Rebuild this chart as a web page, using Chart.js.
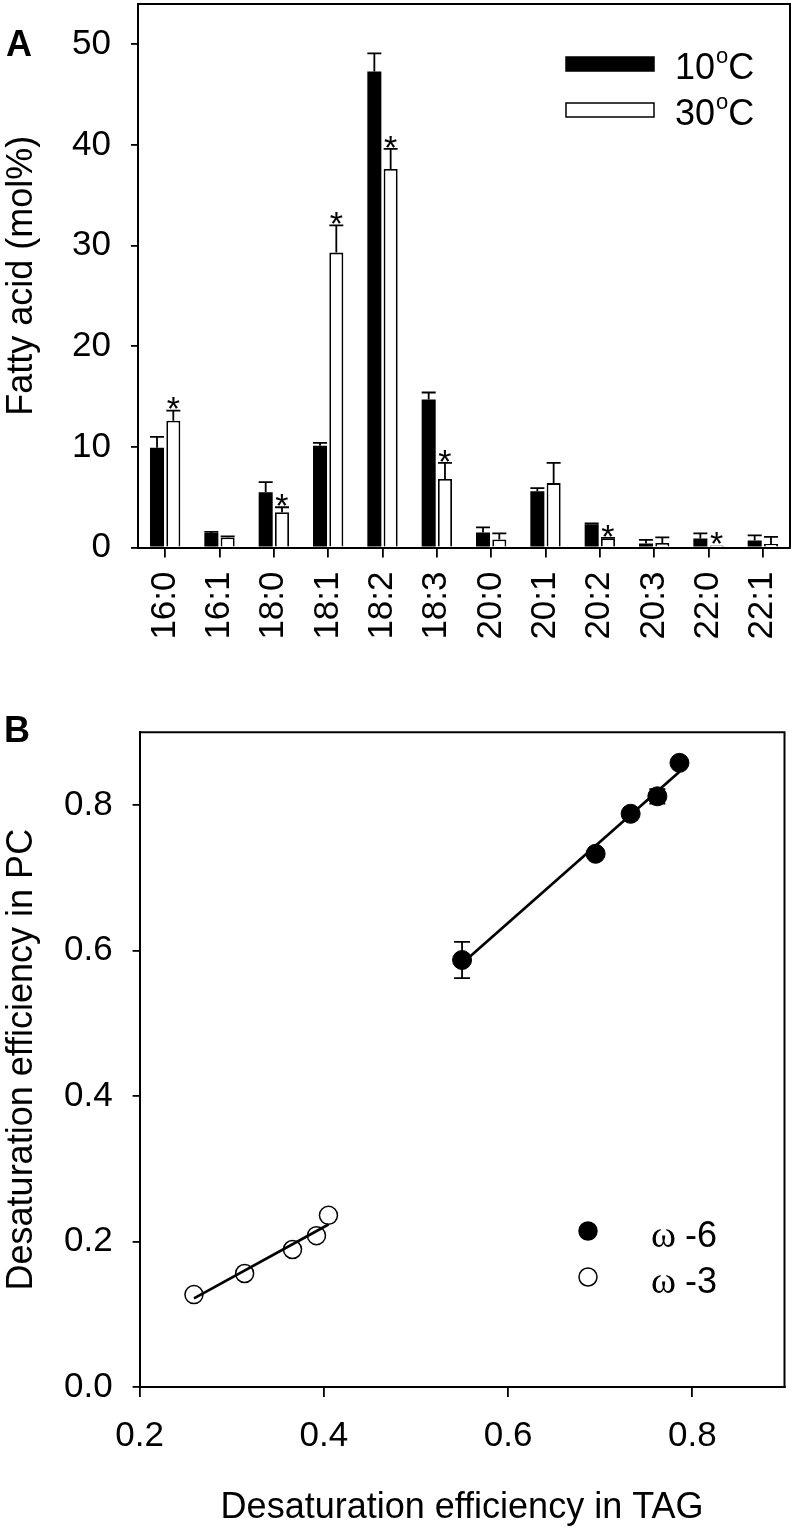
<!DOCTYPE html>
<html>
<head>
<meta charset="utf-8">
<script src="https://cdn.jsdelivr.net/npm/chart.js@4.4.1/dist/chart.umd.min.js"></script>
<style>
  html, body { margin: 0; padding: 0; background: #fff; }
  #wrap { position: relative; width: 795px; height: 1535px; }
  canvas { position: absolute; left: 0; }
  #chartA { top: 0; width: 795px; height: 650px; }
  #chartB { top: 650px; width: 795px; height: 885px; }
</style>
</head>
<body>
<div id="wrap">
  <canvas id="chartA" width="795" height="650"></canvas>
  <canvas id="chartB" width="795" height="885"></canvas>
</div>
<script>
// ---- Panel A data: fatty acid composition (mol%) ----
const fattyAcids = ['16:0', '16:1', '18:0', '18:1', '18:2', '18:3', '20:0', '20:1', '20:2', '20:3', '22:0', '22:1'];
const cold10 = [9.9, 1.45, 5.5, 10.1, 47.3, 14.7, 1.5, 5.6, 2.3, 0.4, 0.9, 0.7];
const cold10Err = [1.1, 0.1, 1.0, 0.3, 1.8, 0.7, 0.5, 0.3, 0.1, 0.35, 0.5, 0.5];
const warm30 = [12.6, 1.0, 3.5, 29.3, 37.6, 6.8, 0.8, 6.4, 0.9, 0.45, 0.2, 0.35];
const warm30Err = [1.0, 0.1, 0.5, 2.7, 2.0, 1.6, 0.6, 2.0, 0.05, 0.55, 0, 0.7];
const stars30 = [true, false, true, true, true, true, false, false, true, false, true, false];
const yTicksA = [0, 10, 20, 30, 40, 50];

// ---- Panel B data: desaturation efficiency, TAG vs PC ----
const omega6X = [0.550, 0.695, 0.733, 0.762, 0.786];
const omega6Y = [0.587, 0.733, 0.788, 0.812, 0.858];
const omega6ErrX = [0.004, 0, 0, 0.005, 0];
const omega6ErrY = [0.025, 0, 0, 0.010, 0];
const omega3X = [0.259, 0.314, 0.366, 0.392, 0.405];
const omega3Y = [0.127, 0.156, 0.189, 0.208, 0.236];
const xTicksB = [0.2, 0.4, 0.6, 0.8];
const yTicksB = [0.0, 0.2, 0.4, 0.6, 0.8];

const FONT = "'Liberation Sans', Arial, sans-serif";
const SERIF = "'Liberation Serif', 'Times New Roman', serif";
Chart.defaults.font.family = FONT;
Chart.defaults.color = '#000';
Chart.defaults.animation = false;

// least squares line across the x range of the points
function fitLine(xs, ys) {
  const n = xs.length;
  const mx = xs.reduce((a, b) => a + b, 0) / n;
  const my = ys.reduce((a, b) => a + b, 0) / n;
  let sxy = 0, sxx = 0;
  xs.forEach((x, i) => { sxy += (x - mx) * (ys[i] - my); sxx += (x - mx) * (x - mx); });
  const slope = sxy / sxx, icpt = my - slope * mx;
  const x0 = Math.min(...xs), x1 = Math.max(...xs);
  return [{ x: x0, y: icpt + slope * x0 }, { x: x1, y: icpt + slope * x1 }];
}

// fixed scale sizes; drop the label overhang padding chart.js adds
function fixWidth(w) {
  return s => { s.width = w; s.paddingTop = 0; s.paddingBottom = 0; };
}
function fixHeight(h) {
  return s => { s.height = h; s.paddingLeft = 0; s.paddingRight = 0; };
}

// top + right frame lines
const boxPlugin = {
  id: 'box',
  afterDraw(chart) {
    const { ctx, chartArea: a } = chart;
    ctx.save();
    ctx.strokeStyle = '#000';
    ctx.lineWidth = 2;
    ctx.beginPath();
    ctx.moveTo(a.left, a.top);
    ctx.lineTo(a.right, a.top);
    ctx.lineTo(a.right, a.bottom);
    ctx.stroke();
    ctx.restore();
  }
};

function panelLetter(letter, x, y) {
  return {
    id: 'letter' + letter,
    afterDraw(chart) {
      const ctx = chart.ctx;
      ctx.save();
      ctx.fillStyle = '#000';
      ctx.font = `bold 36px ${FONT}`;
      ctx.textAlign = 'left';
      ctx.textBaseline = 'alphabetic';
      ctx.fillText(letter, x, y);
      ctx.restore();
    }
  };
}

// error bars (upward only) and significance stars for panel A
const errorBarsA = {
  id: 'errA',
  afterDatasetsDraw(chart) {
    const ctx = chart.ctx, y = chart.scales.y;
    const errs = [cold10Err, warm30Err];
    ctx.save();
    ctx.strokeStyle = '#000';
    ctx.lineWidth = 1.8;
    chart.data.datasets.forEach((ds, di) => {
      const meta = chart.getDatasetMeta(di);
      meta.data.forEach((bar, i) => {
        const e = errs[di][i];
        if (!e) return;
        const top = y.getPixelForValue(ds.data[i] + e);
        const half = bar.width / 2;
        ctx.beginPath();
        ctx.moveTo(bar.x, bar.y);
        ctx.lineTo(bar.x, top);
        ctx.moveTo(bar.x - half, top);
        ctx.lineTo(bar.x + half, top);
        ctx.stroke();
      });
    });
    const meta30 = chart.getDatasetMeta(1);
    ctx.fillStyle = '#000';
    ctx.font = `34px ${FONT}`;
    ctx.textAlign = 'center';
    ctx.textBaseline = 'alphabetic';
    stars30.forEach((s, i) => {
      if (!s) return;
      const bar = meta30.data[i];
      const top = y.getPixelForValue(warm30[i] + warm30Err[i]);
      ctx.fillText('*', bar.x, top - 5 + 0.43 * 34);
    });
    ctx.restore();
  }
};

// legend with superscript "o" for degrees
const legendA = {
  id: 'legendA',
  afterDraw(chart) {
    const ctx = chart.ctx;
    const rows = [{ ds: 0, txt: '10', rectY: 57, base: 79 }, { ds: 1, txt: '30', rectY: 103, base: 125 }];
    ctx.save();
    rows.forEach(r => {
      const ds = chart.data.datasets[r.ds];
      ctx.fillStyle = ds.backgroundColor;
      ctx.fillRect(566, r.rectY, 88, 14);
      ctx.strokeStyle = '#000';
      ctx.lineWidth = 1.5;
      ctx.strokeRect(566, r.rectY, 88, 14);
      ctx.fillStyle = '#000';
      ctx.textAlign = 'left';
      ctx.textBaseline = 'alphabetic';
      ctx.font = `36px ${FONT}`;
      let x = 675;
      ctx.fillText(r.txt, x, r.base);
      x += ctx.measureText(r.txt).width + 1;
      ctx.font = `22px ${FONT}`;
      ctx.fillText('o', x, r.base - 16);
      x += ctx.measureText('o').width;
      ctx.font = `36px ${FONT}`;
      ctx.fillText('C', x, r.base);
    });
    ctx.restore();
  }
};

new Chart(document.getElementById('chartA'), {
  type: 'bar',
  data: {
    labels: fattyAcids,
    datasets: [
      { label: '10oC', data: cold10, backgroundColor: '#000', borderColor: '#000', borderWidth: 0 },
      { label: '30oC', data: warm30, backgroundColor: '#fff', borderColor: '#000', borderWidth: 1.8 }
    ]
  },
  options: {
    responsive: false,
    categoryPercentage: 0.6,
    barPercentage: 0.86,
    layout: { padding: { top: 4, right: 5, left: 0, bottom: 0 } },
    plugins: { legend: { display: false }, tooltip: { enabled: false } },
    scales: {
      x: {
        offset: true,
        grid: { offset: false, drawOnChartArea: false, drawTicks: true, tickLength: 10, color: '#000', lineWidth: 1.8 },
        border: { display: true, color: '#000', width: 2 },
        ticks: { minRotation: 90, maxRotation: 90, padding: 14, font: { size: 35 }, color: '#000' },
        afterFit: fixHeight(102.5)
      },
      y: {
        min: 0,
        max: 54,
        afterBuildTicks: s => { s.ticks = yTicksA.map(v => ({ value: v })); },
        grid: { drawOnChartArea: false, drawTicks: true, tickLength: 7, color: '#000', lineWidth: 1.8 },
        border: { display: true, color: '#000', width: 2 },
        ticks: { padding: 20, font: { size: 35 }, color: '#000', callback: v => v },
        title: { display: true, text: 'Fatty acid (mol%)', font: { size: 36 }, color: '#000', padding: { top: 0, bottom: 0 } },
        afterFit: fixWidth(138)
      }
    }
  },
  plugins: [boxPlugin, errorBarsA, legendA, panelLetter('A', 6, 56)]
});

// error bars for panel B points
const errorBarsB = {
  id: 'errB',
  beforeDatasetsDraw(chart) {
    const ctx = chart.ctx, xs = chart.scales.x, ys = chart.scales.y;
    ctx.save();
    ctx.strokeStyle = '#000';
    ctx.lineWidth = 1.8;
    omega6X.forEach((xv, i) => {
      const px = xs.getPixelForValue(xv), py = ys.getPixelForValue(omega6Y[i]);
      const ey = omega6ErrY[i], ex = omega6ErrX[i];
      if (ey) {
        const t = ys.getPixelForValue(omega6Y[i] + ey), b = ys.getPixelForValue(omega6Y[i] - ey);
        ctx.beginPath();
        ctx.moveTo(px, t); ctx.lineTo(px, b);
        ctx.moveTo(px - 8, t); ctx.lineTo(px + 8, t);
        ctx.moveTo(px - 8, b); ctx.lineTo(px + 8, b);
        ctx.stroke();
      }
      if (ex) {
        const l = xs.getPixelForValue(xv - ex), r = xs.getPixelForValue(xv + ex);
        ctx.beginPath();
        ctx.moveTo(l, py); ctx.lineTo(r, py);
        ctx.moveTo(l, py - 8); ctx.lineTo(l, py + 8);
        ctx.moveTo(r, py - 8); ctx.lineTo(r, py + 8);
        ctx.stroke();
      }
    });
    ctx.restore();
  }
};

const legendB = {
  id: 'legendB',
  afterDraw(chart) {
    const ctx = chart.ctx;
    const rows = [{ ds: 0, txt: '-6', cy: 581, base: 597 }, { ds: 1, txt: '-3', cy: 627, base: 643 }];
    ctx.save();
    rows.forEach(r => {
      const ds = chart.data.datasets[r.ds];
      ctx.beginPath();
      ctx.arc(588, r.cy, 9, 0, Math.PI * 2);
      ctx.fillStyle = ds.backgroundColor;
      ctx.fill();
      ctx.strokeStyle = '#000';
      ctx.lineWidth = 1.5;
      ctx.stroke();
      ctx.fillStyle = '#000';
      ctx.textAlign = 'left';
      ctx.textBaseline = 'alphabetic';
      ctx.font = `38px ${SERIF}`;
      ctx.fillText('\u03c9', 651, r.base);
      ctx.font = `36px ${FONT}`;
      ctx.fillText(r.txt, 685, r.base);
    });
    ctx.restore();
  }
};

new Chart(document.getElementById('chartB'), {
  type: 'scatter',
  data: {
    datasets: [
      { label: '\u03c9 -6', data: omega6X.map((x, i) => ({ x, y: omega6Y[i] })), backgroundColor: '#000', borderColor: '#000', pointRadius: 9.5, borderWidth: 1, order: 2 },
      { label: '\u03c9 -3', data: omega3X.map((x, i) => ({ x, y: omega3Y[i] })), backgroundColor: '#fff', borderColor: '#000', pointRadius: 9, borderWidth: 1.5, order: 2 },
      { type: 'line', label: 'fit6', data: fitLine(omega6X, omega6Y), borderColor: '#000', borderWidth: 2.7, pointRadius: 0, fill: false, order: 1 },
      { type: 'line', label: 'fit3', data: fitLine(omega3X, omega3Y), borderColor: '#000', borderWidth: 2.7, pointRadius: 0, fill: false, order: 1 }
    ]
  },
  options: {
    responsive: false,
    layout: { padding: { top: 82.3, right: 4.3, left: 0, bottom: 0 } },
    plugins: { legend: { display: false }, tooltip: { enabled: false } },
    scales: {
      x: {
        type: 'linear',
        min: 0.2,
        max: 0.9,
        afterBuildTicks: s => { s.ticks = xTicksB.map(v => ({ value: v })); },
        grid: { drawOnChartArea: false, drawTicks: true, tickLength: 10, color: '#000', lineWidth: 1.8 },
        border: { display: true, color: '#000', width: 2 },
        ticks: { padding: 18, font: { size: 35 }, color: '#000', maxRotation: 0, callback: v => v.toFixed(1) },
        title: { display: true, text: 'Desaturation efficiency in TAG', font: { size: 36 }, color: '#000', padding: { top: 0, bottom: 5 } },
        afterFit: fixHeight(148)
      },
      y: {
        type: 'linear',
        min: 0,
        max: 0.9,
        afterBuildTicks: s => { s.ticks = yTicksB.map(v => ({ value: v })); },
        grid: { drawOnChartArea: false, drawTicks: true, tickLength: 7, color: '#000', lineWidth: 1.8 },
        border: { display: true, color: '#000', width: 2 },
        ticks: { padding: 20, font: { size: 35 }, color: '#000', callback: v => v.toFixed(1) },
        title: { display: true, text: 'Desaturation efficiency in PC', font: { size: 36 }, color: '#000', padding: { top: 0, bottom: 0 } },
        afterFit: fixWidth(139.6)
      }
    }
  },
  plugins: [boxPlugin, errorBarsB, legendB, panelLetter('B', 4, 92)]
});
</script>
</body>
</html>
